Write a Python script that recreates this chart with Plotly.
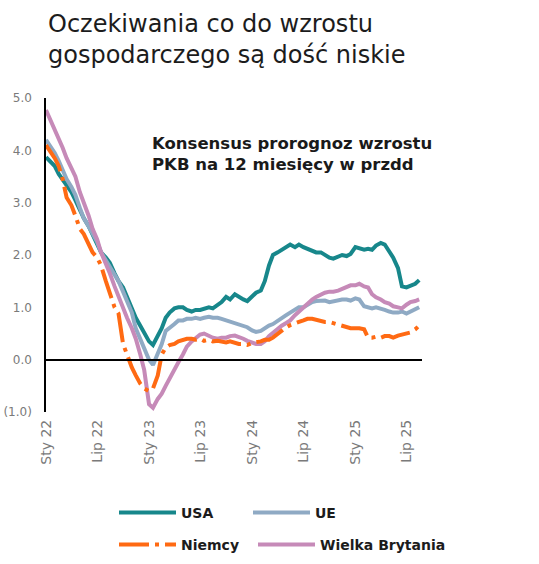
import pandas as pd
import plotly.graph_objects as go

# Semi-monthly observations (1st and 15th), Jan 2022 - Aug 2025
dates = [pd.Timestamp(y, m, d) for y in (2022, 2023, 2024, 2025) for m in range(1, 13)
         for d in (1, 15) if pd.Timestamp(y, m, d) <= pd.Timestamp(2025, 8, 15)]

usa = [3.87, 3.80, 3.70, 3.55, 3.45, 3.35, 3.20, 3.05, 2.85, 2.70, 2.55, 2.40,
       2.20, 2.05, 1.95, 1.85, 1.65, 1.50, 1.38, 1.20, 1.00, 0.80, 0.65, 0.50,
       0.35, 0.28, 0.45, 0.60, 0.80, 0.90, 0.98, 1.00, 1.00, 0.95, 0.92, 0.95,
       0.95, 0.98, 1.00, 0.98, 1.05, 1.10, 1.20, 1.15, 1.25, 1.20, 1.15, 1.12,
       1.20, 1.28, 1.32, 1.50, 1.80, 2.00, 2.05, 2.10, 2.15, 2.20, 2.15, 2.20,
       2.15, 2.12, 2.10, 2.05, 2.05, 2.00, 1.95, 1.93, 1.98, 2.00, 1.98, 2.02,
       2.15, 2.12, 2.10, 2.12, 2.10, 2.18, 2.23, 2.20, 2.08, 1.95, 1.75, 1.40,
       1.38, 1.42, 1.45, 1.52]

ue = [4.20, 4.10, 3.95, 3.80, 3.60, 3.45, 3.30, 3.15, 2.90, 2.70, 2.55, 2.40,
      2.25, 2.05, 1.90, 1.80, 1.65, 1.50, 1.30, 1.10, 0.90, 0.60, 0.40, 0.20,
      0.00, -0.10, 0.10, 0.30, 0.55, 0.60, 0.68, 0.75, 0.75, 0.78, 0.78, 0.80,
      0.78, 0.80, 0.82, 0.80, 0.80, 0.78, 0.75, 0.72, 0.70, 0.68, 0.65, 0.62,
      0.56, 0.53, 0.55, 0.60, 0.65, 0.68, 0.75, 0.80, 0.85, 0.90, 0.95, 1.00,
      1.00, 1.05, 1.10, 1.12, 1.12, 1.13, 1.10, 1.12, 1.13, 1.15, 1.15, 1.13,
      1.17, 1.15, 1.02, 1.00, 0.98, 1.00, 0.98, 0.95, 0.92, 0.90, 0.90, 0.92,
      0.88, 0.92, 0.95, 1.00]

niemcy = [4.10, 4.00, 3.85, 3.70, 3.45, 3.10, 2.95, 2.75, 2.50, 2.40, 2.20, 2.05,
          1.95, 1.80, 1.50, 1.25, 1.00, 0.88, 0.30, 0.10, -0.15, -0.30, -0.46, -0.55,
          -0.60, -0.55, -0.30, 0.10, 0.23, 0.28, 0.30, 0.35, 0.38, 0.40, 0.40, 0.38,
          0.40, 0.36, 0.38, 0.35, 0.36, 0.34, 0.33, 0.35, 0.32, 0.30, 0.30, 0.28,
          0.32, 0.33, 0.35, 0.38, 0.38, 0.42, 0.50, 0.55, 0.62, 0.66, 0.70, 0.72,
          0.75, 0.78, 0.78, 0.76, 0.75, 0.72, 0.72, 0.70, 0.68, 0.65, 0.62, 0.60,
          0.60, 0.60, 0.58, 0.42, 0.42, 0.44, 0.42, 0.45, 0.45, 0.42, 0.46, 0.48,
          0.50, 0.52, 0.58, 0.65]

wielka_brytania = [4.77, 4.60, 4.40, 4.25, 4.05, 3.85, 3.65, 3.50, 3.20, 3.00, 2.75, 2.50,
                   2.30, 2.05, 1.85, 1.65, 1.40, 1.20, 1.00, 0.80, 0.60, 0.40, 0.10, -0.20,
                   -0.85, -0.92, -0.75, -0.65, -0.50, -0.35, -0.20, -0.05, 0.10, 0.25, 0.35, 0.42,
                   0.48, 0.50, 0.45, 0.42, 0.40, 0.42, 0.42, 0.45, 0.46, 0.44, 0.40, 0.36,
                   0.32, 0.30, 0.30, 0.35, 0.45, 0.52, 0.58, 0.65, 0.70, 0.75, 0.85, 0.92,
                   1.00, 1.08, 1.15, 1.20, 1.25, 1.28, 1.30, 1.30, 1.32, 1.35, 1.38, 1.42,
                   1.42, 1.45, 1.40, 1.38, 1.25, 1.19, 1.15, 1.10, 1.07, 1.02, 1.00, 0.98,
                   1.05, 1.10, 1.12, 1.15]

# Axis labels
label_dates = ['2022-01-01', '2022-07-01', '2023-01-01', '2023-07-01',
               '2024-01-01', '2024-07-01', '2025-01-01', '2025-07-01']
label_text = ['Sty 22', 'Lip 22', 'Sty 23', 'Lip 23', 'Sty 24', 'Lip 24', 'Sty 25', 'Lip 25']
tick_dates = pd.date_range('2022-01-01', '2025-07-01', freq='QS')
y_vals = [-1, 0, 1, 2, 3, 4, 5]
y_text = ['(1.0)', '0.0', '1.0', '2.0', '3.0', '4.0', '5.0']

grey = '#7a7a7a'
font = 'DejaVu Sans'

# plot area in pixels
left, right, top, bottom = 46, 117, 98, 152
plot_w = 539 - left - right
plot_h = 564 - top - bottom

fig = go.Figure()

series = [
    ('USA', usa, '#17878b', 'solid', 'legend'),
    ('UE', ue, '#8faac4', 'solid', 'legend'),
    ('Wielka Brytania', wielka_brytania, '#c68ab8', 'solid', 'legend3'),
    ('Niemcy', niemcy, '#ff6a13', '30px,6px,4px,6px', 'legend2'),
]
for name, vals, color, dash, leg in series:
    fig.add_trace(go.Scatter(x=dates, y=vals, mode='lines', name=name,
                             line=dict(color=color, width=4, dash=dash),
                             legend=leg))

# empty trace so the zero-line axis with quarterly ticks gets drawn
fig.add_trace(go.Scatter(x=[], y=[], xaxis='x2', showlegend=False, hoverinfo='skip'))

x_range = ['2022-01-01', '2025-08-25']
y_range = [-1, 5]

legend_font = dict(family=font, size=14, color='#1c1c1c', weight='bold')
col1 = (114 - left) / plot_w
col2 = (253 - left) / plot_w
row1 = (plot_h + top - 513) / plot_h
row2 = (plot_h + top - 545) / plot_h
legend_common = dict(orientation='h', xanchor='left', yanchor='middle',
                     itemwidth=57, font=legend_font)

fig.update_layout(
    width=539, height=564,
    margin=dict(l=left, r=right, t=top, b=bottom, autoexpand=False),
    paper_bgcolor='white', plot_bgcolor='white',
    font=dict(family=font, color=grey),
    xaxis=dict(range=x_range, tickvals=label_dates, ticktext=label_text,
               tickangle=-90, showline=False, ticks='', showgrid=False, zeroline=False,
               ticklabelstandoff=4, tickfont=dict(size=14, color=grey)),
    xaxis2=dict(range=x_range, overlaying='x', matches='x', anchor='free',
                position=(0 - y_range[0]) / (y_range[1] - y_range[0]),
                showline=True, linecolor='black', linewidth=1.5,
                ticks='outside', ticklen=5, tickwidth=1.5, tickcolor='black',
                tickvals=tick_dates, showticklabels=False, showgrid=False, zeroline=False),
    yaxis=dict(range=y_range, tickvals=y_vals, ticktext=y_text,
               showline=True, linecolor='black', linewidth=1.5, ticks='',
               showgrid=False, zeroline=False, ticklabelstandoff=10,
               tickfont=dict(size=12, color=grey)),
    legend=dict(x=col1, y=row1, entrywidth=62, **legend_common),
    legend2=dict(x=col1, y=row2, **legend_common),
    legend3=dict(x=col2, y=row2, **legend_common),
    showlegend=True,
)

# chart title
fig.add_annotation(text='Oczekiwania co do wzrostu<br>gospodarczego są dość niskie',
                   xref='paper', yref='paper', x=(46 - left) / plot_w,
                   y=1 + (top - 8) / plot_h, xanchor='left', yanchor='top',
                   align='left', showarrow=False,
                   font=dict(family=font, size=24, color='#1c1c1c'))

fig.add_annotation(text='Konsensus prorognoz wzrostu<br>PKB na 12 miesięcy w przdd',
                   xref='paper', yref='paper', x=(150 - left) / plot_w,
                   y=1 - (132 - top) / plot_h, xanchor='left', yanchor='top',
                   align='left', showarrow=False,
                   font=dict(family=font, size=16.5, color='#1a1a1a', weight='bold'))

# drop the browser's default page margin so the figure sits at the window origin
fig.write_html('out.html', config={'displayModeBar': False},
               post_script="document.body.style.margin = '0';")
